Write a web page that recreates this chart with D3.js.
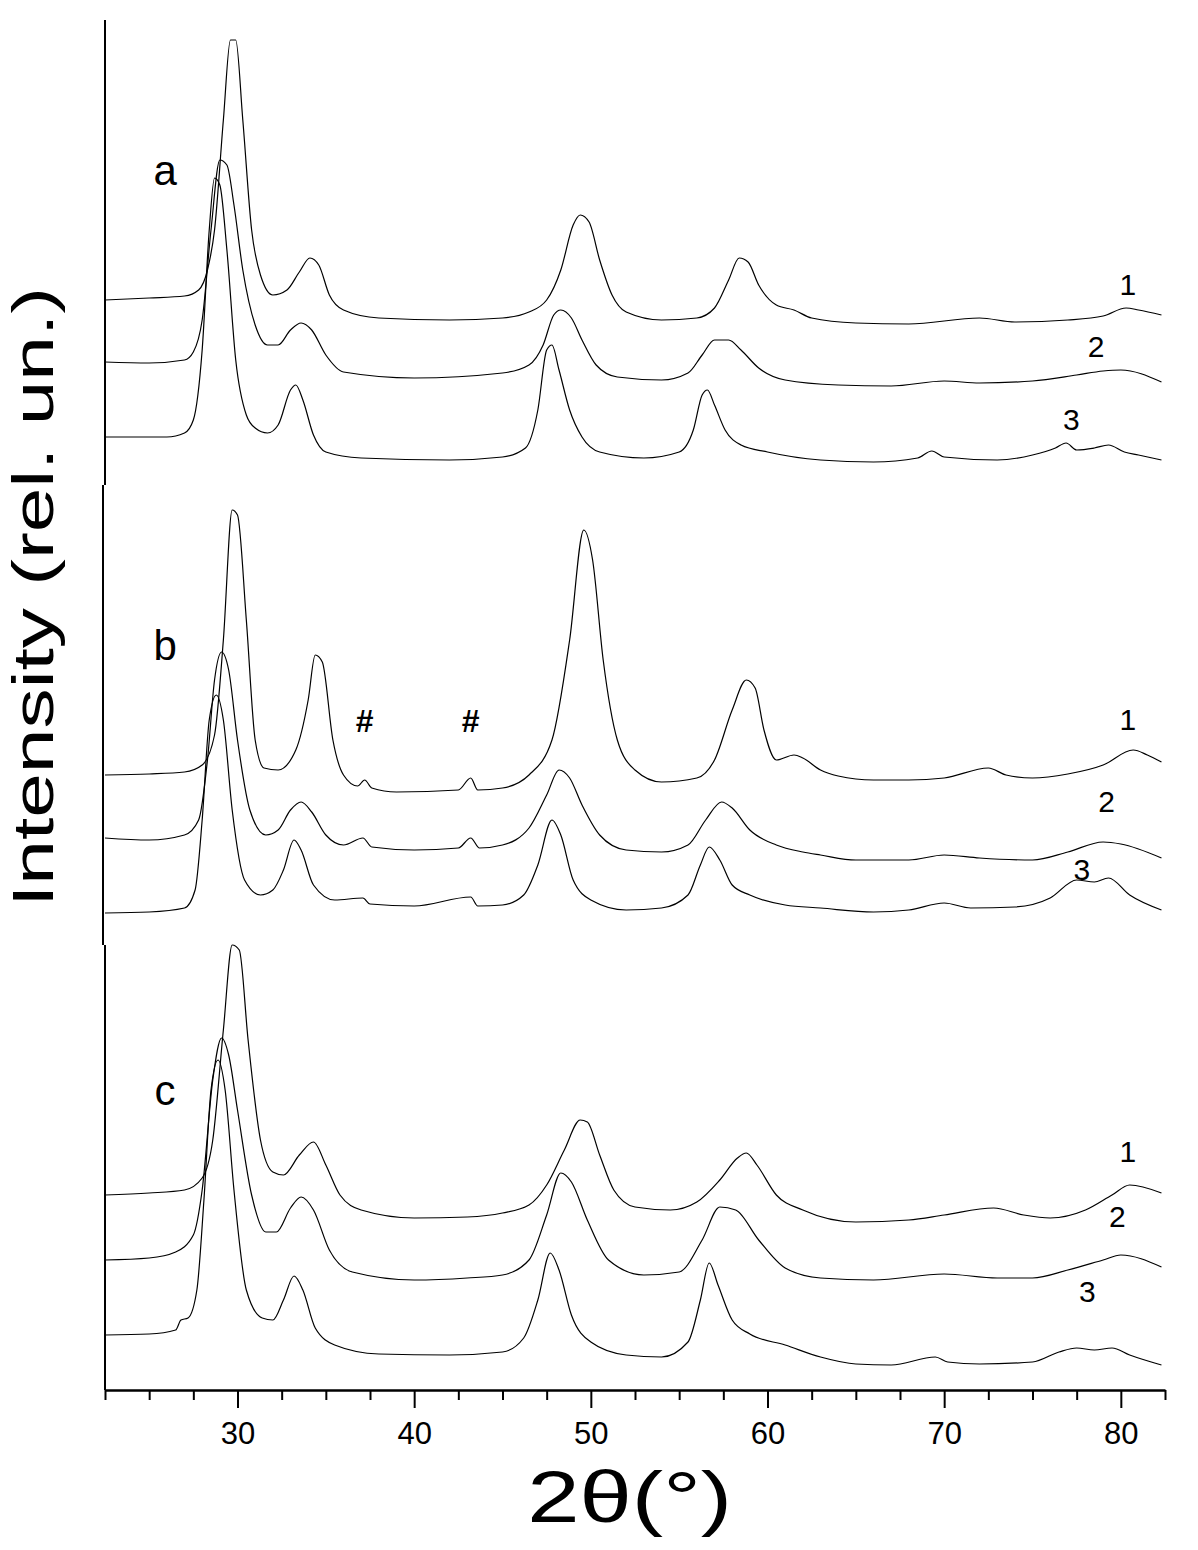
<!DOCTYPE html>
<html>
<head>
<meta charset="utf-8">
<script src="https://cdn.jsdelivr.net/npm/d3@7"></script>
<style>
  body { margin: 0; background: #fff; }
  text { font-family: Arial, "Liberation Sans", sans-serif; fill: #000; }
</style>
</head>
<body>
<div class="chart"></div>
<script>
// XRD patterns, [2theta, intensity] (stacking offsets included)
const a1 = [[22.5,1100],[25,1102],[27,1104],[27.8,1110],[28.3,1130],[28.7,1170],[29.2,1280],[29.6,1360],[29.9,1360],[30.3,1280],[30.8,1170],[31.3,1125],[32,1105],[32.8,1110],[33.5,1128],[34.1,1142],[34.6,1135],[35.2,1105],[36,1090],[38,1082],[42,1080],[45,1082],[46.5,1088],[47.5,1100],[48.3,1130],[49,1175],[49.4,1185],[49.9,1178],[50.5,1140],[51.2,1105],[52,1088],[54,1080],[56,1082],[57,1092],[57.8,1120],[58.4,1142],[58.9,1138],[59.5,1115],[60.5,1095],[61.5,1090],[62.5,1082],[65,1077],[68,1076],[72,1082],[74,1078],[77,1080],[79,1084],[80.3,1092],[81,1090],[82.3,1085]];
const a2 = [[22.5,1038],[25,1037],[27,1040],[27.5,1048],[28,1080],[28.5,1170],[29,1240],[29.4,1235],[29.8,1195],[30.3,1130],[31,1075],[31.7,1055],[32.3,1055],[33,1070],[33.6,1077],[34.2,1070],[35,1045],[36,1028],[40,1022],[45,1027],[46.5,1035],[47.3,1055],[47.9,1085],[48.3,1090],[48.9,1082],[49.5,1060],[50.3,1035],[51.5,1023],[54,1020],[55.5,1027],[56.3,1045],[57,1060],[57.8,1060],[58.5,1050],[59.5,1032],[61,1020],[64,1015],[67,1014],[70,1019],[72,1017],[75,1019],[77.5,1025],[79,1029],[80,1030],[82.3,1018]];
const a3 = [[22.5,963],[26,963],[27,967],[27.5,980],[28,1050],[28.4,1170],[28.7,1222],[29,1215],[29.4,1150],[29.9,1040],[30.5,985],[31,972],[31.7,967],[32.3,975],[33,1010],[33.3,1015],[33.7,1000],[34.3,965],[35,948],[37,942],[42,940],[45,943],[46.3,952],[47,990],[47.5,1050],[47.8,1055],[48.2,1030],[48.8,990],[49.5,963],[50.5,948],[53,942],[55,948],[55.8,970],[56.3,1005],[56.6,1010],[57,995],[57.6,970],[58.5,955],[60,948],[63,940],[66,938],[68.5,942],[69.3,949],[70,943],[73,940],[75,945],[76.3,952],[76.9,957],[77.5,950],[78.5,952],[79.3,955],[80.2,948],[81,945],[82.3,940]];

const b1 = [[22.5,625],[25,626],[27,628],[28,635],[28.7,665],[29.2,760],[29.7,890],[30,885],[30.5,780],[31,660],[31.5,632],[32.3,630],[33.3,650],[34,700],[34.4,745],[34.8,738],[35.4,660],[36,625],[36.8,614],[37.2,620],[37.6,612],[39,608],[42.5,610],[43.2,622],[43.6,610],[45,612],[46.5,625],[47.8,660],[48.8,760],[49.6,870],[50.1,840],[50.7,740],[51.5,660],[52.5,630],[54,618],[56,622],[57,640],[58,690],[58.8,720],[59.3,712],[59.8,670],[60.5,640],[61.5,645],[62,642],[63,630],[64,624],[66,620],[68,620],[70,622],[72.5,632],[73.5,625],[75,622],[77,626],[79,635],[80.7,650],[81.5,645],[82.3,638]];
const b2 = [[22.5,562],[25,560],[27,565],[27.8,580],[28.3,640],[28.7,720],[29.1,748],[29.5,730],[30,660],[30.7,590],[31.6,565],[32.3,570],[33,590],[33.6,598],[34.2,588],[35,565],[36,555],[37.1,562],[37.6,553],[40,550],[42.5,552],[43.2,562],[43.7,552],[45,555],[46.5,572],[47.5,605],[48.2,630],[48.8,622],[49.5,595],[50.5,565],[52,550],[54,548],[55.5,555],[56.5,580],[57.4,598],[58,592],[59,570],[60.5,555],[62,548],[63,545],[65,540],[68,540],[70,545],[72,542],[75,540],[77,548],[79,558],[80,556],[82.3,542]];
const b3 = [[22.5,487],[25,488],[27,492],[27.6,510],[28,580],[28.4,680],[28.8,705],[29.2,680],[29.7,590],[30.4,520],[31.3,505],[32,510],[32.6,530],[33.2,560],[33.6,550],[34.3,515],[35.5,500],[37.1,502],[37.5,496],[40,494],[43.2,503],[43.6,494],[45,495],[46.2,505],[47,535],[47.8,580],[48.3,565],[49,520],[50,500],[52,490],[54,492],[55.5,505],[56.2,535],[56.7,553],[57.3,540],[58,515],[59,505],[61,495],[63,492],[66,488],[68,490],[70,497],[71.5,492],[74,493],[76,502],[77.5,520],[78.5,518],[79.3,522],[80.5,505],[82.3,490]];

const c1 = [[22.5,205],[25,207],[27,210],[28,222],[28.6,260],[29.2,370],[29.7,455],[30.1,450],[30.6,360],[31.3,260],[32,228],[32.6,225],[33.5,245],[34.3,258],[35,235],[35.8,205],[37,190],[40,182],[43,183],[45,187],[46.5,195],[47.5,215],[48.5,250],[49.4,280],[49.8,278],[50.5,245],[51.3,210],[52.5,193],[54.5,190],[56,198],[57.3,220],[58.3,242],[58.8,247],[59.4,235],[60.5,205],[62,190],[65,178],[68,180],[70,185],[72.8,192],[74.5,185],[76,182],[78,190],[79.5,205],[80.5,215],[82.3,207]];
const c2 = [[22.5,140],[25,142],[26.5,148],[27.5,165],[28,210],[28.6,320],[29.1,362],[29.5,345],[30,290],[30.8,205],[31.6,168],[32.2,168],[33,192],[33.6,203],[34.3,190],[35.2,150],[36.5,128],[40,120],[43,122],[45,125],[46.5,140],[47.5,185],[48.3,227],[48.9,218],[49.8,180],[51,140],[53,125],[55,128],[56.3,160],[57.3,193],[58.2,190],[59.5,160],[61,132],[63,122],[66,120],[70,126],[73,122],[75,122],[77,130],[79,140],[80,145],[82.3,133]];
const c3 = [[22.5,65],[25,66],[26.5,70],[26.8,80],[27.2,82],[27.7,110],[28.1,200],[28.5,310],[28.9,340],[29.3,310],[29.8,210],[30.5,110],[31.4,82],[32,80],[32.6,100],[33.2,124],[33.7,110],[34.4,72],[35.5,55],[38,46],[42,45],[45,48],[46.2,62],[47,100],[47.7,147],[48.2,130],[48.9,85],[50,58],[52,45],[54,43],[55.5,58],[56.2,100],[56.7,137],[57.2,115],[58,80],[59,66],[61,55],[63,43],[65,36],[67,35],[69.5,43],[70.2,38],[72,36],[75,38],[76.5,48],[77.5,52],[78.5,50],[79.5,52],[80.5,45],[82.3,35]];

const series = [a1, a2, a3, b1, b2, b3, c1, c2, c3];
const panelLetters = ["a", "b", "c"];
const curveNumbers = ["1", "2", "3"];
const majorTicks = [30, 40, 50, 60, 70, 80];

const margin = {top: 20, left: 105, bottom: 160, right: 33};
const W = 1198, H = 1550;
const width = W - margin.left - margin.right;
const height = H - margin.top - margin.bottom;

const svg = d3.select(".chart").append("svg")
  .attr("width", W).attr("height", H)
  .append("g")
  .attr("transform", `translate(${margin.left},${margin.top})`);

const x = d3.scaleLinear().domain([22.5, 82.5]).range([0, width]);
const y = d3.scaleLinear().domain([10, 1380]).range([height, 0]);

const line = d3.line()
  .x(d => x(d[0]))
  .y(d => y(d[1]))
  .curve(d3.curveMonotoneX);

svg.selectAll(".trace")
  .data(series)
  .enter().append("path")
  .attr("class", "trace")
  .attr("d", line)
  .attr("fill", "none")
  .attr("stroke", "#000")
  .attr("stroke-width", 1.2);

// x axis with minor ticks every 2.5
const minor = d3.range(22.5, 82.6, 2.5).filter(v => !majorTicks.includes(v));
svg.append("g")
  .attr("transform", `translate(0,${height})`)
  .call(d3.axisBottom(x).tickValues(minor).tickSize(10).tickFormat(""))
  .call(g => g.select(".domain").remove())
  .selectAll("line").attr("stroke-width", 2);
const xAxis = svg.append("g")
  .attr("transform", `translate(0,${height})`)
  .call(d3.axisBottom(x).tickValues(majorTicks).tickSize(18).tickSizeOuter(0).tickPadding(14));
xAxis.select(".domain").attr("stroke-width", 2.5);
xAxis.selectAll("line").attr("stroke-width", 2);
xAxis.selectAll("text").attr("font-size", 31).attr("font-family", "Arial, 'Liberation Sans', sans-serif");

// broken left axis, one segment per panel
const segs = [[1380, 915, 0], [915, 455, -2], [455, 10, 0]];
segs.forEach(s => {
  svg.append("line")
    .attr("x1", s[2]).attr("x2", s[2])
    .attr("y1", y(s[0])).attr("y2", y(s[1]))
    .attr("stroke", "#000").attr("stroke-width", 2);
});

// panel letters
const letterPos = [[25.9, 1215], [25.9, 740], [25.9, 295]];
svg.selectAll(".letter")
  .data(panelLetters).enter().append("text")
  .attr("x", (d, i) => x(letterPos[i][0]))
  .attr("y", (d, i) => y(letterPos[i][1]))
  .attr("font-size", 42)
  .attr("text-anchor", "middle")
  .text(d => d);

// curve numbers
const numPos = [[80.4, 1105], [78.6, 1043], [77.2, 970],
                [80.4, 670], [79.2, 588], [77.8, 520],
                [80.4, 238], [79.8, 173], [78.1, 98]];
svg.selectAll(".num")
  .data(numPos).enter().append("text")
  .attr("x", d => x(d[0]))
  .attr("y", d => y(d[1]))
  .attr("font-size", 30)
  .attr("text-anchor", "middle")
  .text((d, i) => curveNumbers[i % 3]);

// impurity marks
[37.2, 43.2].forEach(v => {
  svg.append("text")
    .attr("x", x(v)).attr("y", y(668))
    .attr("font-size", 32).attr("font-weight", "bold")
    .attr("text-anchor", "middle").text("#");
});

// axis titles
svg.append("text")
  .attr("transform", `translate(-52,${y(803)}) rotate(-90)`)
  .attr("text-anchor", "middle")
  .attr("font-size", 58)
  .attr("textLength", 620)
  .attr("lengthAdjust", "spacingAndGlyphs")
  .text("Intensity (rel. un.)");
svg.append("text")
  .attr("x", x(52.2)).attr("y", height + 132)
  .attr("text-anchor", "middle")
  .attr("font-size", 72)
  .attr("textLength", 205)
  .attr("lengthAdjust", "spacingAndGlyphs")
  .text("2θ(°)");
</script>
</body>
</html>
